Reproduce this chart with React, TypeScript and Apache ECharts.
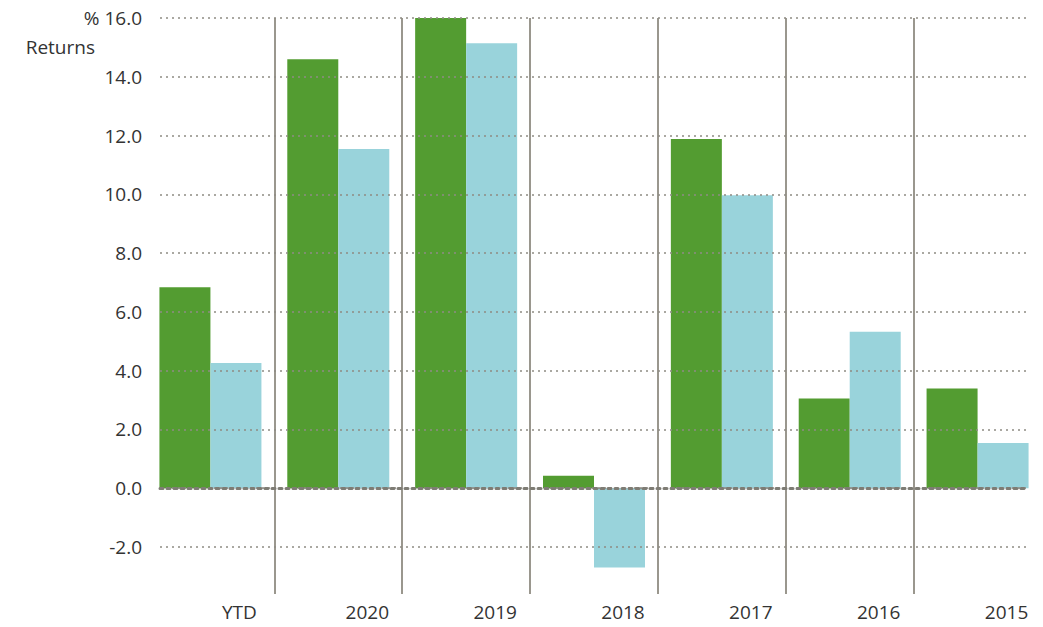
import React, { useEffect, useRef } from "react";
import * as echarts from "echarts";

const categories = ["YTD", "2020", "2019", "2018", "2017", "2016", "2015"];
const fundReturns = [6.84, 14.6, 16.0, 0.42, 11.88, 3.05, 3.39];
const benchmarkReturns = [4.26, 11.54, 15.14, -2.7, 9.97, 5.32, 1.54];
const yTicksMin = -2;
const yTicksMax = 16;
const yTickStep = 2;

const FONT = "'Open Sans', 'DejaVu Sans', sans-serif";
const GREEN = "#539c31";
const BLUE = "#99d3db";
const GRIDC = "#8e8c84";

export default function App() {
  const ref = useRef<HTMLDivElement>(null);
  useEffect(() => {
    if (!ref.current) return;
    const chart = echarts.init(ref.current, undefined, { renderer: "svg" });
    chart.setOption({
      animation: false,
      backgroundColor: "#ffffff",
      grid: [
        { left: 146.5, right: 1.5, top: 18, bottom: 33 },
        { left: 160, right: 16, top: 18, bottom: 80 },
      ],
      xAxis: [
        {
          type: "category",
          gridIndex: 0,
          data: categories,
          axisLine: { show: false },
          axisTick: { show: false },
          axisLabel: {
            color: "#333333",
            fontFamily: FONT,
            fontSize: 19,
            margin: 8,
            padding: [0, 0, 0, 58],
          },
          splitLine: {
            show: true,
            showMinLine: false,
            showMaxLine: false,
            lineStyle: { color: "#9a978e", width: 2, type: "solid" },
          },
        },
        {
          type: "category",
          gridIndex: 1,
          data: categories,
          z: 4,
          axisLine: {
            show: true,
            onZero: true,
            lineStyle: { color: "#7e7c74", width: 3, type: [3, 4] },
          },
          axisTick: { show: false },
          axisLabel: { show: false },
          splitLine: { show: false },
        },
      ],
      yAxis: [
        {
          type: "value",
          gridIndex: 0,
          min: -3.6,
          max: 16,
          show: false,
          splitLine: { show: false },
        },
        {
          type: "value",
          gridIndex: 1,
          min: yTicksMin,
          max: yTicksMax,
          interval: yTickStep,
          z: 4,
          axisLine: { show: false },
          axisTick: { show: false },
          axisLabel: {
            color: "#333333",
            fontFamily: FONT,
            fontSize: 19,
            margin: 18,
            formatter: (v: number) =>
              v === yTicksMax ? "% " + v.toFixed(1) : v.toFixed(1),
          },
          splitLine: {
            show: true,
            lineStyle: { color: GRIDC, width: 1.5, type: [2, 4] },
          },
        },
      ],
      series: [
        {
          name: "Fund",
          type: "bar",
          xAxisIndex: 0,
          yAxisIndex: 0,
          data: fundReturns,
          barWidth: 51,
          barGap: "0%",
          itemStyle: { color: GREEN },
        },
        {
          name: "Benchmark",
          type: "bar",
          xAxisIndex: 0,
          yAxisIndex: 0,
          data: benchmarkReturns,
          barWidth: 51,
          barGap: "0%",
          itemStyle: { color: BLUE },
        },
      ],
      graphic: [
        {
          type: "text",
          right: 1043 - 95,
          top: 37,
          style: {
            text: "Returns",
            fill: "#333333",
            font: `19px ${FONT}`,
            textAlign: "right",
          },
        },
      ],
    });
    return () => chart.dispose();
  }, []);
  return <div ref={ref} style={{ width: 1043, height: 627, position: "absolute", left: 0, top: 0 }} />;
}
